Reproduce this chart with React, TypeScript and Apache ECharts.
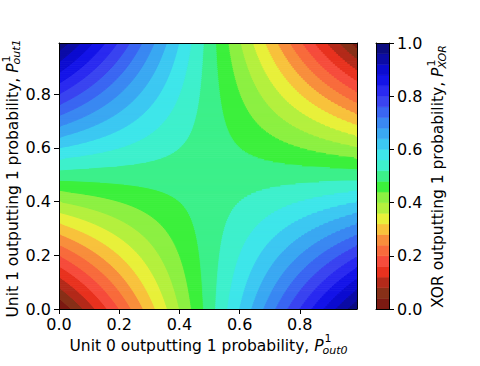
import React, { useEffect, useRef } from "react";
import * as echarts from "echarts";

// ---- data ----
const levels = [
  0.0, 0.04, 0.08, 0.12, 0.16, 0.2, 0.24, 0.28, 0.32, 0.36, 0.4, 0.44, 0.48,
  0.52, 0.56, 0.6, 0.64, 0.68, 0.72, 0.76, 0.8, 0.84, 0.88, 0.92, 0.96, 1.0,
];
const bandColors = [
  "#7c1a12", "#873018", "#b32a1a", "#e8321f", "#f64c3c", "#f86b3c", "#f88e3c",
  "#f8c23c", "#e8f03a", "#b4f03e", "#8cf042", "#3cf03c", "#3cf08a", "#3ef0cc",
  "#3ee6ea", "#3cc8f2", "#3aa8f2", "#3a88f2", "#3a66f2", "#3a44f0", "#2a2af0",
  "#1414e8", "#0c0cd0", "#0c0ca6", "#0c0c80",
];
const xTicks = [0, 0.2, 0.4, 0.6, 0.8];
const yTicks = [0, 0.2, 0.4, 0.6, 0.8];
const cbTicks = [0, 0.2, 0.4, 0.6, 0.8, 1.0];
const P_MAX = 0.99; // probability grid runs 0 .. 0.99
const ROW_STEP = 0.0075; // sampling step of P_out1

const FONT = "DejaVu Sans";

// XOR unit: P_xor = p0(1-p1) + p1(1-p0); solve for p0 at level L, given p1
function p0AtLevel(L: number, p1: number) {
  return (L - p1) / (1 - 2 * p1);
}
const clamp = (v: number) => Math.max(0, Math.min(P_MAX, v));
function bandInterval(lo: number, hi: number, p1: number): [number, number] {
  const a = clamp(p0AtLevel(lo, p1));
  const b = clamp(p0AtLevel(hi, p1));
  return a < b ? [a, b] : [b, a];
}

function buildContour() {
  const out: number[][] = [];
  const nRows = Math.round(P_MAX / ROW_STEP);
  const eps = 1e-7;
  for (let r = 0; r < nRows; r++) {
    const a = r * ROW_STEP;
    const b = Math.min((r + 1) * ROW_STEP, P_MAX);
    for (let k = 0; k < bandColors.length; k++) {
      const ia = bandInterval(levels[k], levels[k + 1], a + eps);
      const ib = bandInterval(levels[k], levels[k + 1], b - eps);
      if (ia[1] - ia[0] < 1e-6 && ib[1] - ib[0] < 1e-6) continue;
      out.push([k, a, b, ia[0], ia[1], ib[0], ib[1]]);
    }
  }
  return out;
}

function textWidth(text: string, font: string) {
  const ctx = document.createElement("canvas").getContext("2d")!;
  ctx.font = font;
  return ctx.measureText(text).width;
}

function mathLabel(main: string, sub: string, cx: number, cy: number, rotated: boolean) {
  const fM = 15.5;
  const fS = 11;
  const wMain = textWidth(main, `${fM}px "${FONT}"`);
  const wP = textWidth("P", `italic ${fM}px "${FONT}"`);
  const wSup = textWidth("1", `${fS}px "${FONT}"`);
  const wSub = textWidth(sub, `italic ${fS}px "${FONT}"`);
  const total = wMain + wP + Math.max(wSup + 1, wSub);
  const supY = rotated ? -6.5 : -7.5;
  const base = { fill: "#000", fontFamily: FONT, align: "left", verticalAlign: "middle" };
  const children = [
    { type: "text", x: 0, y: 0, style: { ...base, text: main, fontSize: fM } },
    { type: "text", x: wMain, y: 0, style: { ...base, text: "P", fontSize: fM, fontStyle: "italic" } },
    { type: "text", x: wMain + wP + 1, y: supY, style: { ...base, text: "1", fontSize: fS } },
    { type: "text", x: wMain + wP - 1, y: 4, style: { ...base, text: sub, fontSize: fS, fontStyle: "italic" } },
  ];
  if (!rotated) return { type: "group", x: cx - total / 2, y: cy, children };
  return { type: "group", x: cx, y: cy + total / 2, rotation: Math.PI / 2, children };
}

const fmt = (v: number) => v.toFixed(1);

export default function App() {
  const ref = useRef<HTMLDivElement>(null);
  useEffect(() => {
    document.body.style.margin = "0";
    const chart = echarts.init(ref.current!, undefined, { renderer: "svg" });
    const lineBlack = { show: true, onZero: false, lineStyle: { color: "#000", width: 1 } };
    const noTick = { show: false };
    const noLabel = { show: false };
    const noSplit = { show: false };
    const tickStyle = (vals: number[]) => ({
      show: true,
      length: 5,
      customValues: vals,
      lineStyle: { color: "#000", width: 1 },
    });
    const labelStyle = (vals: number[], margin: number) => ({
      show: true,
      customValues: vals,
      formatter: fmt,
      fontSize: 16,
      fontFamily: FONT,
      color: "#000",
      margin,
    });

    const option: any = {
      animation: false,
      backgroundColor: "#fff",
      grid: [
        { left: 59, top: 43, width: 298, height: 266 },
        { left: 376, top: 43, width: 13, height: 266 },
      ],
      xAxis: [
        { gridIndex: 0, type: "value", min: 0, max: P_MAX, position: "bottom", axisLine: lineBlack, axisTick: tickStyle(xTicks), axisLabel: labelStyle(xTicks, 7), splitLine: noSplit, z: 10 },
        { gridIndex: 0, type: "value", min: 0, max: P_MAX, position: "top", axisLine: lineBlack, axisTick: noTick, axisLabel: noLabel, splitLine: noSplit, z: 10 },
        { gridIndex: 1, type: "value", min: 0, max: 1, position: "bottom", axisLine: lineBlack, axisTick: noTick, axisLabel: noLabel, splitLine: noSplit, z: 10 },
        { gridIndex: 1, type: "value", min: 0, max: 1, position: "top", axisLine: lineBlack, axisTick: noTick, axisLabel: noLabel, splitLine: noSplit, z: 10 },
      ],
      yAxis: [
        { gridIndex: 0, type: "value", min: 0, max: P_MAX, position: "left", axisLine: lineBlack, axisTick: tickStyle(yTicks), axisLabel: labelStyle(yTicks, 8), splitLine: noSplit, z: 10 },
        { gridIndex: 0, type: "value", min: 0, max: P_MAX, position: "right", axisLine: lineBlack, axisTick: noTick, axisLabel: noLabel, splitLine: noSplit, z: 10 },
        { gridIndex: 1, type: "value", min: 0, max: 1, position: "left", axisLine: lineBlack, axisTick: noTick, axisLabel: noLabel, splitLine: noSplit, z: 10 },
        { gridIndex: 1, type: "value", min: 0, max: 1, position: "right", axisLine: lineBlack, axisTick: tickStyle(cbTicks), axisLabel: labelStyle(cbTicks, 8), splitLine: noSplit, z: 10 },
      ],
      series: [
        {
          type: "custom",
          xAxisIndex: 0,
          yAxisIndex: 0,
          clip: true,
          silent: true,
          encode: { x: 3, y: 1 },
          data: buildContour(),
          renderItem: (_p: any, api: any) => {
            const k = api.value(0);
            const a = api.value(1);
            const b = api.value(2);
            const pts = [
              api.coord([api.value(3), a]),
              api.coord([api.value(4), a]),
              api.coord([api.value(6), b]),
              api.coord([api.value(5), b]),
            ];
            const c = bandColors[k];
            return { type: "polygon", shape: { points: pts }, style: { fill: c, stroke: c, lineWidth: 1 } };
          },
        },
        {
          type: "custom",
          xAxisIndex: 2,
          yAxisIndex: 2,
          clip: true,
          silent: true,
          encode: { x: 0, y: 1 },
          data: bandColors.map((_c, k) => [k, levels[k], levels[k + 1]]),
          renderItem: (_p: any, api: any) => {
            const k = api.value(0);
            const p1 = api.coord([0, api.value(2)]);
            const p2 = api.coord([1, api.value(1)]);
            const c = bandColors[k];
            return {
              type: "rect",
              shape: { x: p1[0], y: p1[1], width: p2[0] - p1[0], height: p2[1] - p1[1] },
              style: { fill: c, stroke: c, lineWidth: 0.6 },
            };
          },
        },
      ],
      graphic: [
        mathLabel("Unit 0 outputting 1 probability, ", "out0", 209, 346, false),
        mathLabel("Unit 1 outputting 1 probability, ", "out1", 12.5, 178, true),
        mathLabel("XOR outputting 1 probability, ", "XOR", 438, 176, true),
      ],
    };
    chart.setOption(option);
    return () => chart.dispose();
  }, []);
  return <div ref={ref} style={{ width: 480, height: 366 }} />;
}
